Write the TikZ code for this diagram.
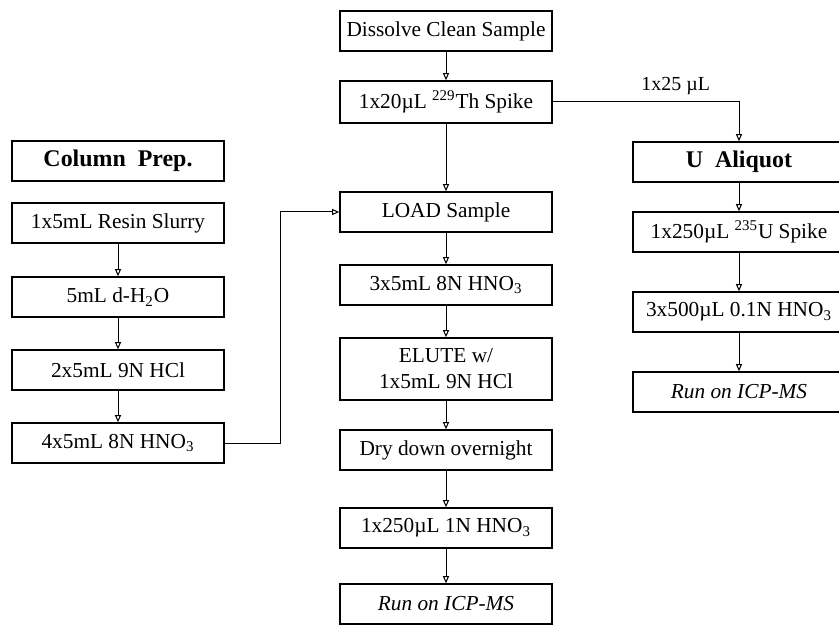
\documentclass[tikz,border=0pt]{standalone}
\usepackage{fontspec}
\setmainfont{Liberation Serif}
\usetikzlibrary{arrows.meta}

\begin{document}
\begin{tikzpicture}[
    x=0.5bp, y=-0.5bp,
    box/.style={draw, line width=0.8pt, minimum width=106bp, minimum height=20bp, inner sep=1.5pt, font=\fontsize{10.7}{13}\selectfont, align=center},
    flow/.style={-{Triangle[open,length=3.5pt,width=3pt]}, line width=0.5pt}
]
\useasboundingbox (0,0) rectangle (839,632);
\clip (0,0) rectangle (839,632);
% Th column
\node[box] (dissolve) at (446,31) {Dissolve Clean Sample};
\node[box, minimum height=21bp] (thspike) at (446,102) {1x20µL \textsuperscript{229}Th Spike};
\node[box] (load) at (446,212) {LOAD Sample};
\node[box] (nitric) at (446,285) {3x5mL 8N HNO\textsubscript{3}};
\node[box, minimum height=31bp] (elute) at (446,369) {ELUTE w/\\1x5mL 9N HCl};
\node[box] (drydown) at (446,450) {Dry down overnight};
\node[box] (redissolve) at (446,528) {1x250µL 1N HNO\textsubscript{3}};
\node[box] (runth) at (446,604) {\itshape Run on ICP-MS};
% column prep
\node[box] (prep) at (118,161) {\bfseries\large Column\ \ Prep.};
\node[box] (resin) at (118,223) {1x5mL Resin Slurry};
\node[box] (water) at (118,297) {5mL d-H\textsubscript{2}O};
\node[box] (hcl) at (118,370) {2x5mL 9N HCl};
\node[box] (condition) at (118,443) {4x5mL 8N HNO\textsubscript{3}};
% U aliquot
\node[box] (ualiquot) at (739,162) {\bfseries\large U\ \ Aliquot};
\node[box] (uspike) at (739,232) {1x250µL \textsuperscript{235}U Spike};
\node[box] (rinse) at (739,312) {3x500µL 0.1N HNO\textsubscript{3}};
\node[box] (runu) at (739,392) {\itshape Run on ICP-MS};

\draw[flow] (dissolve) -- (thspike);
\draw[flow] (thspike) -- (load);
\draw[flow] (load) -- (nitric);
\draw[flow] (nitric) -- (elute);
\draw[flow] (elute) -- (drydown);
\draw[flow] (drydown) -- (redissolve);
\draw[flow] (redissolve) -- (runth);

\draw[flow] (resin) -- (water);
\draw[flow] (water) -- (hcl);
\draw[flow] (hcl) -- (condition);
\draw[flow] (condition.east) -- ++(56,0) |- (load.west);

\draw[flow] (thspike.east) -| node[pos=0.33, above, font=\fontsize{10}{12}\selectfont] {1x25 µL} (ualiquot.north);
\draw[flow] (ualiquot) -- (uspike);
\draw[flow] (uspike) -- (rinse);
\draw[flow] (rinse) -- (runu);
\end{tikzpicture}
\end{document}
